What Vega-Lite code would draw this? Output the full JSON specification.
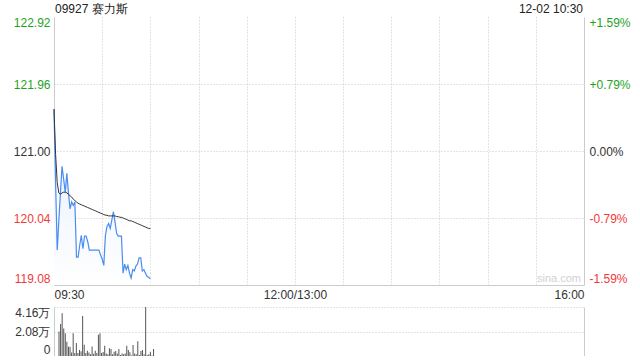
{
  "$schema": "https://vega.github.io/schema/vega-lite/v6.json",
  "padding": {"left": 13, "top": 3, "right": 0, "bottom": 0},
  "bounds": "flush",
  "spacing": 22,
  "config": {
    "view": {"stroke": null},
    "font": "Liberation Sans",
    "axis": {"labelFont": "Liberation Sans", "labelFontSize": 12, "labelColor": "#333", "ticks": false, "title": null, "domainColor": "#cccccc", "gridColor": "#c8c8c8", "gridDash": [1, 2]}
  },
  "datasets": {
    "name": [{"label": "09927 赛力斯"}],
    "time": [{"label": "12-02 10:30"}],
    "mark": [{"label": "sina.com"}]
  },
  "data": {"values": [
    {"m":0,"p":121.60,"a":121.60,"v":2.08},
    {"m":1,"p":120.55,"a":120.95,"v":2.71},
    {"m":2,"p":119.58,"a":120.55,"v":3.64},
    {"m":3,"p":120.00,"a":120.40,"v":2.34},
    {"m":4,"p":120.40,"a":120.38,"v":1.93},
    {"m":5,"p":120.78,"a":120.40,"v":1.21},
    {"m":6,"p":120.60,"a":120.41,"v":0.78},
    {"m":7,"p":120.41,"a":120.41,"v":0.78},
    {"m":8,"p":120.68,"a":120.40,"v":0.30},
    {"m":9,"p":120.40,"a":120.38,"v":1.93},
    {"m":10,"p":120.17,"a":120.36,"v":0.26},
    {"m":11,"p":120.27,"a":120.34,"v":1.10},
    {"m":12,"p":120.22,"a":120.31,"v":0.26},
    {"m":13,"p":120.27,"a":120.29,"v":0.50},
    {"m":14,"p":119.48,"a":120.27,"v":0.40},
    {"m":15,"p":119.48,"a":120.25,"v":3.40},
    {"m":16,"p":119.65,"a":120.24,"v":0.95},
    {"m":17,"p":119.79,"a":120.23,"v":0.25},
    {"m":18,"p":119.60,"a":120.22,"v":0.45},
    {"m":19,"p":119.78,"a":120.21,"v":0.30},
    {"m":20,"p":119.78,"a":120.20,"v":0.15},
    {"m":21,"p":119.70,"a":120.19,"v":0.80},
    {"m":22,"p":119.58,"a":120.18,"v":0.20},
    {"m":23,"p":119.58,"a":120.17,"v":0.45},
    {"m":24,"p":119.58,"a":120.16,"v":0.25},
    {"m":25,"p":119.58,"a":120.15,"v":1.80},
    {"m":26,"p":119.58,"a":120.14,"v":1.93},
    {"m":27,"p":119.58,"a":120.13,"v":0.25},
    {"m":28,"p":119.58,"a":120.12,"v":0.35},
    {"m":29,"p":119.51,"a":120.11,"v":0.87},
    {"m":30,"p":119.45,"a":120.10,"v":0.22},
    {"m":31,"p":119.36,"a":120.09,"v":0.14},
    {"m":32,"p":119.79,"a":120.08,"v":0.65},
    {"m":33,"p":119.92,"a":120.08,"v":0.59},
    {"m":34,"p":119.96,"a":120.07,"v":0.14},
    {"m":35,"p":119.89,"a":120.07,"v":0.37},
    {"m":36,"p":120.01,"a":120.07,"v":0.42},
    {"m":37,"p":120.13,"a":120.07,"v":0.22},
    {"m":38,"p":119.98,"a":120.07,"v":0.59},
    {"m":39,"p":119.82,"a":120.06,"v":0.08},
    {"m":40,"p":119.78,"a":120.06,"v":0.22},
    {"m":41,"p":119.78,"a":120.05,"v":0.14},
    {"m":42,"p":119.78,"a":120.05,"v":0.22},
    {"m":43,"p":119.25,"a":120.04,"v":0.87},
    {"m":44,"p":119.38,"a":120.03,"v":0.51},
    {"m":45,"p":119.30,"a":120.02,"v":0.31},
    {"m":46,"p":119.36,"a":120.01,"v":0.05},
    {"m":47,"p":119.25,"a":120.00,"v":0.93},
    {"m":48,"p":119.18,"a":120.00,"v":0.22},
    {"m":49,"p":119.30,"a":119.99,"v":0.14},
    {"m":50,"p":119.28,"a":119.98,"v":1.26},
    {"m":51,"p":119.35,"a":119.97,"v":0.08},
    {"m":52,"p":119.38,"a":119.96,"v":0.42},
    {"m":53,"p":119.47,"a":119.95,"v":0.51},
    {"m":54,"p":119.47,"a":119.94,"v":0.14},
    {"m":55,"p":119.28,"a":119.93,"v":4.16},
    {"m":56,"p":119.30,"a":119.92,"v":0.08},
    {"m":57,"p":119.25,"a":119.91,"v":0.14},
    {"m":58,"p":119.20,"a":119.90,"v":0.37},
    {"m":59,"p":119.19,"a":119.89,"v":0.05},
    {"m":60,"p":119.17,"a":119.89,"v":0.59}
  ]},
  "vconcat": [
    {
      "width": 530,
      "height": 268,
      "layer": [
        {
          "mark": {"type": "area", "color": {"gradient": "linear", "x1": 0, "y1": 0, "x2": 0, "y2": 1, "stops": [{"offset": 0, "color": "#e3edfc"}, {"offset": 1, "color": "#ffffff"}]}},
          "encoding": {
            "x": {"field": "m", "type": "quantitative", "scale": {"domain": [0, 330], "nice": false},
              "axis": {"values": [0, 30, 60, 90, 120, 150, 180, 210, 240, 270, 300, 330],
                "labelExpr": "datum.value == 0 ? '09:30' : datum.value == 150 ? '12:00/13:00' : datum.value == 330 ? '16:00' : ''",
                "labelFlush": true, "labelOverlap": false, "labelPadding": 4, "grid": true,
                "gridOpacity": {"expr": "datum.value == 0 || datum.value == 330 ? 0 : 1"}}},
            "y": {"field": "p", "type": "quantitative", "scale": {"domain": [119.08, 122.92], "zero": false, "nice": false},
              "axis": {"values": [119.08, 120.04, 121.0, 121.96, 122.92], "format": ".2f", "labelFlush": true, "labelPadding": 4, "grid": true,
                "gridOpacity": {"expr": "datum.value > 122.9 || datum.value < 119.1 ? 0 : 1"},
                "labelColor": {"expr": "datum.value > 121.001 ? '#1fa31f' : datum.value < 120.999 ? '#f03a3a' : '#333333'"}}},
            "y2": {"datum": 119.08}
          }
        },
        {
          "mark": {"type": "line", "color": "#4a8cf0", "strokeWidth": 1.2},
          "encoding": {
            "x": {"field": "m", "type": "quantitative"},
            "y": {"field": "p", "type": "quantitative", "axis": null}
          }
        },
        {
          "mark": {"type": "line", "color": "#333333", "strokeWidth": 1},
          "encoding": {
            "x": {"field": "m", "type": "quantitative"},
            "y": {"field": "a", "type": "quantitative",
              "axis": {"orient": "right", "values": [119.08, 120.04, 121.0, 121.96, 122.92], "labelFlush": true, "labelPadding": 5, "grid": false,
                "labelExpr": "(datum.value > 121.001 ? '+' : datum.value < 120.999 ? '-' : '') + format(abs(datum.value - 121) / 121 * 100, '.2f') + '%'",
                "labelColor": {"expr": "datum.value > 121.001 ? '#1fa31f' : datum.value < 120.999 ? '#f03a3a' : '#333333'"}}}
          }
        },
        {
          "data": {"name": "mark"},
          "mark": {"type": "text", "align": "right", "baseline": "bottom", "fontSize": 11, "color": "#d2d2d2", "dx": -3, "dy": -1},
          "encoding": {
            "text": {"field": "label"},
            "x": {"datum": 330, "type": "quantitative"},
            "y": {"datum": 119.08, "type": "quantitative", "axis": null}
          }
        },
        {
          "data": {"name": "name"},
          "mark": {"type": "text", "align": "left", "baseline": "bottom", "fontSize": 12, "color": "#222", "dx": 1, "dy": -1},
          "encoding": {
            "text": {"field": "label"},
            "x": {"datum": 0, "type": "quantitative"},
            "y": {"datum": 122.92, "type": "quantitative", "axis": null}
          }
        },
        {
          "data": {"name": "time"},
          "mark": {"type": "text", "align": "right", "baseline": "bottom", "fontSize": 12, "color": "#222", "dx": -1, "dy": -1},
          "encoding": {
            "text": {"field": "label"},
            "x": {"datum": 330, "type": "quantitative"},
            "y": {"datum": 122.92, "type": "quantitative", "axis": null}
          }
        }
      ],
      "resolve": {"axis": {"y": "independent"}}
    },
    {
      "width": 530,
      "height": 49,
      "layer": [
        {
          "mark": {"type": "bar", "size": 1, "color": "#555555"},
          "encoding": {
            "x": {"field": "m", "type": "quantitative", "scale": {"domain": [0, 330], "nice": false},
              "axis": {"labels": false, "grid": false, "domain": false}},
            "y": {"field": "v", "type": "quantitative", "scale": {"domain": [0, 4.16], "nice": false},
              "axis": {"values": [0, 2.08, 4.16], "labelFlush": true, "labelPadding": 4, "grid": true,
                "labelExpr": "datum.value == 0 ? '0' : format(datum.value, '.2f') + '万'"}}
          }
        },
        {
          "mark": {"type": "rule", "opacity": 0},
          "encoding": {
            "y": {"datum": 0, "type": "quantitative", "axis": {"orient": "right", "labels": false, "grid": false}}
          }
        }
      ],
      "resolve": {"axis": {"y": "independent"}}
    }
  ]
}
